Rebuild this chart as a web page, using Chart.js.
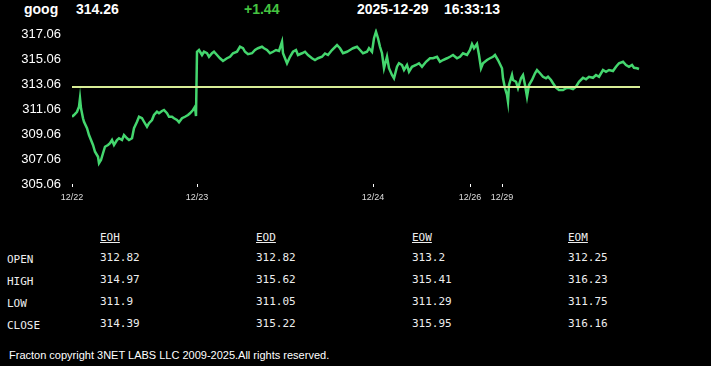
<!DOCTYPE html>
<html>
<head>
<meta charset="utf-8">
<title>goog</title>
<script src="https://cdn.jsdelivr.net/npm/chart.js@4.4.0/dist/chart.umd.min.js"></script>
<style>
  body { margin: 0; background: #000; width: 711px; height: 366px; overflow: hidden; position: relative;
         font-family: "Liberation Sans", Arial, sans-serif; color: #fff; }
  .hd { position: absolute; top: 0; font-weight: bold; font-size: 14px; line-height: 18px; }
  #chartBox { position: absolute; left: 0; top: 20px; width: 660px; height: 200px; }
  .cell { position: absolute; font-family: "DejaVu Sans Mono", monospace; font-size: 11px; line-height: 14px; color: #eee; }
  .colhead { text-decoration: underline; }
  #footer { position: absolute; left: 9px; top: 348px; font-size: 11px; line-height: 14px; color: #fff; }
</style>
</head>
<body>
<div class="hd" style="left:24px">goog</div>
<div class="hd" id="last" style="left:76px"></div>
<div class="hd" id="chg" style="left:244px;color:#45c441"></div>
<div class="hd" style="left:357px">2025-12-29</div>
<div class="hd" style="left:444px">16:33:13</div>

<div id="chartBox"><canvas id="priceChart" width="660" height="200"></canvas></div>
<div id="table"></div>
<div id="footer">Fracton copyright 3NET LABS LLC 2009-2025.All rights reserved.</div>

<script>
// bar index (position in the intraday series) and price at that bar
const bars = [
  0, 2, 5, 7, 8, 9, 11, 12, 15, 17, 21, 23, 26, 27, 29, 31, 33, 36, 38, 40,
  42, 45, 47, 50, 52, 55, 57, 60, 62, 65, 67, 70, 72, 75, 77, 80, 82, 85, 87, 90,
  92, 95, 97, 100, 102, 105, 107, 110, 113, 116, 118, 121, 123, 124,
  125, 127, 130, 132, 135, 137, 140, 142, 145, 148, 151, 155, 158, 161, 165, 168,
  171, 173, 176, 180, 183, 186, 190, 192, 195, 198, 201, 204, 207, 210, 211, 213,
  215, 218, 221, 224, 226, 230, 233, 236, 240, 243, 246, 250, 253, 256, 260, 265,
  268, 271, 275, 278, 281, 285, 288, 291, 295, 297, 300, 302, 304, 306, 308, 310,
  312, 315, 317, 320, 322, 325, 327, 330, 332, 335, 337, 340, 344, 347, 350, 354,
  358, 361, 365, 368, 371, 375, 378, 381, 385, 388, 391, 395, 398, 400, 402, 405,
  407, 409, 411, 415, 418, 421, 423, 426, 430, 431, 433, 435, 436, 437, 440, 441,
  444, 446, 449, 451, 453, 455, 457, 460, 463, 465, 468, 471, 474, 476, 479, 481,
  484, 487, 491, 494, 497, 501, 504, 507, 511, 514, 517, 521, 524, 527, 531, 534,
  537, 541, 544, 547, 551, 554, 557, 560, 562, 565, 567
];
const prices = [
  310.44, 310.58, 310.84, 311.24, 311.92, 311.12, 310.32, 310.04, 309.52, 308.98, 308.18, 307.64, 307.24, 306.72, 306.98, 307.52, 308.04, 308.18, 308.32, 308.58,
  308.18, 308.58, 308.72, 308.58, 308.98, 308.72, 308.58, 308.72, 309.52, 310.04, 310.44, 310.32, 310.04, 309.64, 309.92, 310.18, 310.58, 310.84, 310.72, 310.90,
  310.98, 310.72, 310.44, 310.44, 310.32, 310.18, 310.00, 310.32, 310.44, 310.58, 310.72, 310.98, 311.24, 310.50,
  315.64, 315.78, 315.38, 315.64, 315.52, 315.24, 315.52, 315.64, 315.38, 315.12, 314.90, 315.12, 315.24, 315.52, 315.64, 316.04,
  315.92, 315.64, 315.44, 315.52, 315.78, 315.92, 316.04, 315.92, 315.78, 315.52, 315.64, 315.78, 315.70, 316.44, 315.52, 315.12,
  314.72, 315.24, 315.64, 315.78, 315.38, 315.52, 315.64, 315.38, 315.12, 314.98, 315.12, 315.24, 315.50, 315.38, 315.78, 316.18,
  315.92, 315.52, 315.64, 315.78, 315.92, 316.04, 315.78, 315.52, 315.64, 315.92, 315.64, 316.72, 317.24, 316.72, 316.04, 315.52,
  314.32, 315.24, 314.32, 313.78, 313.52, 314.44, 314.72, 314.58, 314.18, 314.58, 314.04, 314.44, 314.58, 314.72, 314.44, 314.84,
  315.12, 315.12, 315.24, 314.84, 314.98, 315.12, 315.24, 315.38, 315.12, 315.24, 315.52, 315.38, 315.78, 316.26, 315.92, 316.26,
  315.38, 314.32, 314.72, 314.98, 315.12, 315.24, 315.38, 314.98, 314.32, 313.52, 312.72, 312.18, 311.64, 312.98, 313.78, 313.38,
  313.24, 312.72, 313.52, 313.78, 312.98, 312.04, 312.98, 313.38, 313.92, 314.18, 313.92, 313.64, 313.52, 313.64, 313.38, 313.12,
  312.76, 312.58, 312.58, 312.72, 312.76, 312.66, 312.84, 313.24, 313.56, 313.44, 313.64, 313.56, 313.78, 313.64, 314.18, 314.04,
  314.18, 314.10, 314.44, 314.72, 314.84, 314.58, 314.44, 314.58, 314.36, 314.32, 314.26
];
const lastBar = 568;

// day boundaries on the x axis
const dayLabels = ['12/22', '12/23', '12/24', '12/26', '12/29'];
const dayBars = [0, 125, 301, 398, 430];

// y axis tick labels
const priceTicks = [305.06, 307.06, 309.06, 311.06, 313.06, 315.06, 317.06];

const lastPrice = 314.26;
const change = 1.44;

// summary table
const rowNames = ['OPEN', 'HIGH', 'LOW', 'CLOSE'];
const colNames = ['EOH', 'EOD', 'EOW', 'EOM'];
const eoh = ['312.82', '314.97', '311.9', '314.39'];
const eod = ['312.82', '315.62', '311.05', '315.22'];
const eow = ['313.2', '315.41', '311.29', '315.95'];
const eom = ['312.25', '316.23', '311.75', '316.16'];

document.getElementById('last').textContent = lastPrice.toFixed(2);
document.getElementById('chg').textContent = (change >= 0 ? '+' : '') + change.toFixed(2);

// table
const table = document.getElementById('table');
const colX = [100, 256, 412, 568];
const rowY = [253, 275, 297, 319];
const cols = [eoh, eod, eow, eom];

function addCell(text, x, y, cls) {
  const d = document.createElement('div');
  d.className = 'cell' + (cls ? ' ' + cls : '');
  d.style.left = x + 'px';
  d.style.top = y + 'px';
  d.textContent = text;
  table.appendChild(d);
}

colNames.forEach((name, i) => addCell(name, colX[i], 231, 'colhead'));
rowNames.forEach((name, r) => {
  addCell(name, 7, rowY[r]);
  cols.forEach((col, i) => addCell(col[r], colX[i], rowY[r] - 2));
});

// chart
const openLine = parseFloat(eoh[0]);

const chartData = {
  datasets: [
    {
      label: 'EOH open',
      data: [{ x: bars[0], y: openLine }, { x: lastBar, y: openLine }],
      borderColor: '#d8ec96',
      borderWidth: 2,
      pointRadius: 0,
    },
    {
      label: 'goog',
      data: bars.map((b, i) => ({ x: b, y: prices[i] })),
      borderColor: '#44d66e',
      borderWidth: 2.5,
      pointRadius: 0,
      tension: 0,
    },
  ],
};

const config = {
  type: 'line',
  data: chartData,
  options: {
    responsive: false,
    animation: false,
    layout: { padding: { top: 8.5, right: 20, bottom: 10, left: 0 } },
    plugins: { legend: { display: false }, tooltip: { enabled: false } },
    scales: {
      x: {
        type: 'linear',
        min: 0,
        max: lastBar,
        afterBuildTicks: (scale) => {
          scale.ticks = dayBars.map((v) => ({ value: v }));
        },
        afterFit: (scale) => { scale.height = 26; },
        ticks: {
          color: '#ddd',
          font: { family: 'Liberation Sans', size: 9 },
          padding: 5,
          maxRotation: 0,
          autoSkip: false,
          callback: (value) => dayLabels[dayBars.indexOf(value)],
        },
        grid: { drawOnChartArea: false, color: '#fff', tickLength: 3, tickWidth: 1 },
        border: { display: false },
      },
      y: {
        min: 305.06,
        max: 317.5,
        afterBuildTicks: (scale) => {
          scale.ticks = priceTicks.map((v) => ({ value: v }));
        },
        afterFit: (scale) => {
          scale.width = 72;
          scale.paddingTop = 0;
          scale.paddingBottom = 0;
        },
        ticks: {
          color: '#fff',
          font: { family: 'Liberation Sans', size: 13 },
          padding: 11,
          callback: (value) => value.toFixed(2),
        },
        grid: { display: false, drawTicks: false },
        border: { display: false },
      },
    },
  },
};

const ctx = document.getElementById('priceChart').getContext('2d');
const priceChart = new Chart(ctx, config);
</script>
</body>
</html>
